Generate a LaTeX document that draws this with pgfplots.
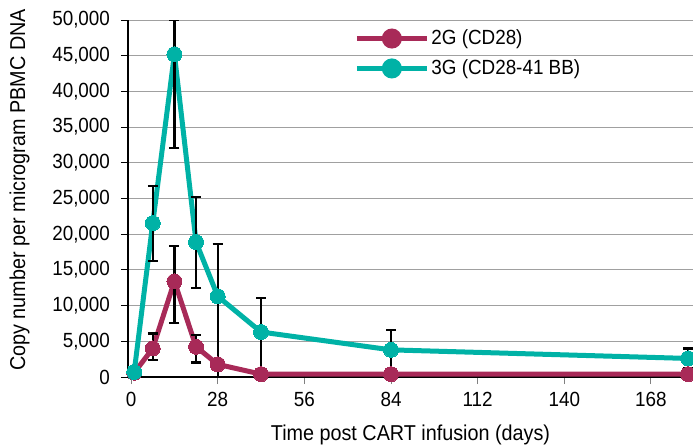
\documentclass[border=0pt]{standalone}
\usepackage{fontspec}
\setmainfont{Liberation Sans}[FakeStretch=0.92]
\usepackage{pgfplots}
\pgfplotsset{compat=1.18}
\usepackage{pgfplotstable}
\definecolor{cred}{RGB}{168,42,88}
\definecolor{cteal}{RGB}{0,178,166}
\definecolor{cgrid}{RGB}{160,160,160}
\pgfplotstableread{
x y ep em
1 600 0 0
7 4000 2100 1630
14 13400 5000 5800
21 4230 1640 2200
28 1770 0 0
42 400 0 0
84 400 0 0
180 400 0 0
}\gtwo
\pgfplotstableread{
x y ep em
1 700 0 0
7 21550 5150 5250
14 45200 4800 13100
21 18900 6300 6400
28 11300 7300 11300
42 6300 4800 6300
84 3800 2800 2800
180 2600 1400 1400
}\gthree
\begin{document}
\fontsize{20.5}{24}\selectfont
\begin{tikzpicture}
\begin{axis}[
  scale only axis,
  width=565pt, height=357pt,
  xmin=-1, xmax=181.6,
  ymin=0, ymax=50000,
  xtick={0,28,56,84,112,140,168},
  ytick={0,5000,...,50000},
  axis x line*=bottom,
  axis y line*=left,
  axis line style={black, line width=1.3pt, -},
  xtick style={draw=gray, line width=1pt},
  ytick style={draw=black, line width=1pt},
  tick align=outside,
  major tick length=7pt,
  ymajorgrids,
  grid style={cgrid, line width=1pt},
  scaled y ticks=false,
  /pgf/number format/assume math mode=true,
  /pgf/number format/1000 sep={,},
  /pgf/number format/fixed,
  ticklabel style={font=\fontsize{20.5}{24}\selectfont},
  xticklabel style={yshift=-1pt},
  yticklabel style={xshift=-4pt},
  xlabel={Time post CART infusion (days)},
  ylabel={Copy number per microgram PBMC DNA},
  label style={font=\fontsize{21.5}{25}\selectfont},
  xlabel style={at={(axis description cs:0.5,0)}, anchor=base, yshift=-63pt},
  ylabel style={at={(axis description cs:-0.1823,0.524)}, anchor=base, rotate=0},
  clip=true,
  legend style={draw=none, fill=none, at={(rel axis cs:0.395,0.985)}, anchor=north west,
    font=\fontsize{20.5}{24}\selectfont, row sep=8pt,
    /tikz/every even column/.append style={column sep=6pt}},
  legend cell align=left,
  legend image code/.code={
    \draw[#1, line width=5pt] (0pt,0pt) -- (70pt,0pt);
    \fill[#1] (35pt,0pt) circle (7.5pt);
  },
]
\addplot[cred, line width=5pt, mark=*, mark size=7.5pt, mark options={fill=cred, draw=cred, line width=0pt},
  error bars/.cd, y dir=both, y explicit,
  error bar style={black, line width=2.2pt},
  error mark options={black, line width=2.2pt, mark size=5pt, rotate=90}]
  table[x=x, y=y, y error plus=ep, y error minus=em] {\gtwo};
\addlegendentry{2G (CD28)}
\addplot[cteal, line width=5pt, mark=*, mark size=7.5pt, mark options={fill=cteal, draw=cteal, line width=0pt},
  error bars/.cd, y dir=both, y explicit,
  error bar style={black, line width=2.2pt},
  error mark options={black, line width=2.2pt, mark size=5pt, rotate=90}]
  table[x=x, y=y, y error plus=ep, y error minus=em] {\gthree};
\addlegendentry{3G (CD28-41 BB)}
\end{axis}
\pgfresetboundingbox
\path (current axis.south west) ++(-128pt,-68pt) rectangle ++(693pt,445pt);
\end{tikzpicture}
\end{document}
